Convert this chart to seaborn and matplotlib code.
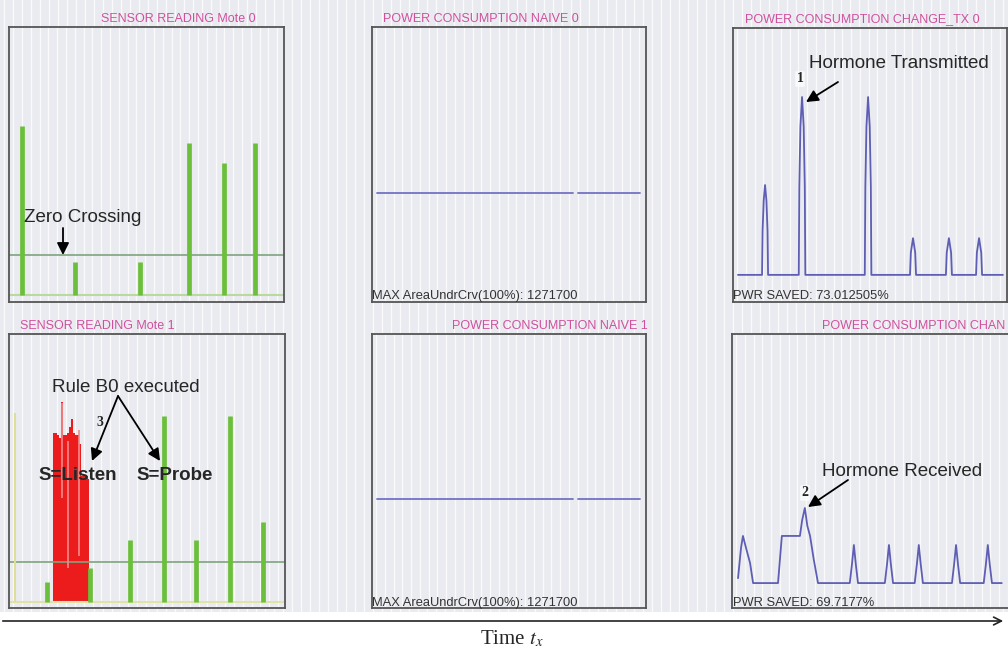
import numpy as np
import matplotlib
matplotlib.use("Agg")
import matplotlib.pyplot as plt
import seaborn as sns

# ==========================
# DATA (time in % of window, value in % of panel height)
# ==========================

# sensor reading, mote 0
mote0_t = [4.7, 24.0, 47.6, 65.5, 78.0, 89.5]
mote0_val = [64, 14.5, 14.5, 58, 50.5, 58]
mote0_base = 2.5
mote0_thresh = 17.0

# sensor reading, mote 1
mote1_t = [13.8, 29.3, 43.8, 56.2, 67.8, 80.0, 92.0]
mote1_val = [9.5, 14.6, 24.8, 70, 24.8, 70, 31.4]
mote1_base = 2.2
mote1_thresh = 16.8
mote1_edge_t = [2.2]
mote1_edge_val = [71]

# red burst (S=Listen) in mote 1
burst_t = [15.9, 17.0, 17.8, 18.5, 19.2, 19.9, 20.7, 21.4, 22.1, 22.8,
           23.6, 24.3, 25.0, 25.7, 26.4, 27.2, 27.9, 28.6, 29.0]
burst_val = [64, 64, 63, 62, 75, 63, 63, 64, 66, 69,
             64, 63, 63, 60, 48, 48, 48, 48, 47]
streak_t = [19.2, 21.4, 25.4]
streak_lo = [40, 14.6, 19]
streak_hi = [75, 61, 65]

# naive power consumption (same for both motes)
naive_t = [1.8, 73.4, 75.2, 97.8]
naive_p = [39.6, 39.6, 39.6, 39.6]

# power consumption with change, mote 0 (TX)
tx0_t = [1.8, 10.6, 10.8, 11.2, 11.7, 12.2, 12.6, 12.8,
         24.0, 24.2, 24.6, 25.2, 25.8, 26.2, 26.4,
         48.1, 48.3, 48.7, 49.3, 49.9, 50.3, 50.5,
         64.6, 64.9, 65.7, 66.5, 66.8,
         77.7, 78.0, 78.8, 79.6, 79.9,
         88.7, 89.0, 89.8, 90.6, 90.9, 98.5]
tx0_p = [9.9, 9.9, 26, 37, 42.7, 37, 26, 9.9,
         9.9, 42, 64, 74.8, 64, 42, 9.9,
         9.9, 42, 64, 74.8, 64, 42, 9.9,
         9.9, 18, 23.3, 18, 9.9,
         9.9, 18, 23.3, 18, 9.9,
         9.9, 18, 23.3, 18, 9.9, 9.9]

# power consumption with change, mote 1 (RX)
rx1_t = [2.2, 3.3, 4.0, 5.1, 6.6, 7.7,
         16.8, 18.2, 24.8, 25.6, 26.6, 27.5, 28.5, 29.8, 31.4,
         43.0, 43.8, 44.5, 45.2, 46.0,
         55.8, 56.6, 57.3, 58.0, 58.8,
         66.7, 67.5, 68.2, 68.9, 69.7,
         80.3, 81.1, 81.8, 82.5, 83.3,
         91.9, 92.7, 93.4, 94.1, 94.9,
         98.5]
rx1_p = [10.9, 22, 26.3, 22, 16.4, 9.1,
         9.1, 26.3, 26.3, 32, 36.5, 30, 26.3, 18, 9.1,
         9.1, 16, 23, 16, 9.1,
         9.1, 16, 23, 16, 9.1,
         9.1, 16, 23, 16, 9.1,
         9.1, 16, 23, 16, 9.1,
         9.1, 16, 23, 16, 9.1,
         9.1]

titles = ["SENSOR READING Mote 0", "POWER CONSUMPTION NAIVE 0",
          "POWER CONSUMPTION CHANGE_TX 0", "SENSOR READING Mote 1",
          "POWER CONSUMPTION NAIVE 1", "POWER CONSUMPTION CHAN"]
naive_label = "MAX AreaUndrCrv(100%): 1271700"
saved_labels = ["PWR SAVED: 73.012505%", "PWR SAVED: 69.7177%"]

# ==========================
# STYLE
# ==========================

sns.set_theme(style="darkgrid")
plt.rcParams["font.family"] = ["Liberation Sans", "DejaVu Sans"]
plt.rcParams["mathtext.fontset"] = "stix"

W, H = 1008, 654
BG = "#e9ebf0"
PINK = "#d0509e"
GREEN = "#6cbf3a"
BLUE = "#5e5eb4"


def box(x0, y0, x1, y1):
    return [x0 / W, 1 - y1 / H, (x1 - x0) / W, (y1 - y0) / H]


def fp(x, y):
    return (x, H - y)


fig = plt.figure(figsize=(W / 100, H / 100), dpi=100)
fig.patch.set_facecolor("white")

# striped screenshot background
bg = fig.add_axes(box(0, 0, W, 612))
bg.set_facecolor(BG)
bg.set_xlim(0, W)
bg.set_ylim(0, 1)
bg.set_xticks(np.arange(4, W, 9))
bg.set_yticks([])
bg.grid(axis="x", color="white", lw=0.9, alpha=0.8)
bg.tick_params(labelbottom=False, length=0)
for s in bg.spines.values():
    s.set_visible(False)


def panel(rect, xmax=100):
    ax = fig.add_axes(rect)
    ax.set_facecolor(BG)
    ax.set_xlim(0, xmax)
    ax.set_ylim(0, 100)
    ax.set_xticks(np.arange(1.5, xmax, 3.2))
    ax.set_yticks([])
    ax.grid(axis="x", color="white", lw=0.9, alpha=0.8)
    ax.grid(axis="y", visible=False)
    ax.tick_params(labelbottom=False, labelleft=False, length=0)
    for s in ax.spines.values():
        s.set_visible(True)
        s.set_color("#555555")
        s.set_linewidth(1.3)
    return ax


ax1 = panel(box(9, 27, 284, 302))
ax2 = panel(box(372, 27, 646, 302))
ax3 = panel(box(733, 28, 1007, 302))
ax4 = panel(box(9, 334, 285, 608))
ax5 = panel(box(372, 334, 646, 608))
ax6 = panel(box(732, 334, 1030, 608), xmax=108.8)

# ==========================
# SENSOR READINGS
# ==========================

ax1.axhline(mote0_base, color="#b9d99f", lw=1.5)
ax1.axhline(mote0_thresh, color="#7fa37f", lw=1.2)
ax1.vlines(mote0_t, mote0_base, mote0_val, color=GREEN, lw=3.4)

ax4.axhline(mote1_base, color="#dfe3a8", lw=1.5)
ax4.axhline(mote1_thresh, color="#7fa37f", lw=1.2)
ax4.vlines(mote1_edge_t, mote1_base, mote1_edge_val, color="#dede9a", lw=1.5)
ax4.vlines(mote1_t, mote1_base, mote1_val, color=GREEN, lw=3.4)
ax4.fill_between(burst_t, mote1_base, burst_val, step="mid", color="#ec1c1c", lw=0)
ax4.vlines(streak_t, streak_lo, streak_hi, color="#f08a8a", lw=1.2)

# ==========================
# POWER CONSUMPTION
# ==========================

for ax in (ax2, ax5):
    sns.lineplot(x=naive_t[:2], y=naive_p[:2], ax=ax, color="#7373c4", lw=1.3)
    sns.lineplot(x=naive_t[2:], y=naive_p[2:], ax=ax, color="#7373c4", lw=1.3)

sns.lineplot(x=tx0_t, y=tx0_p, ax=ax3, color=BLUE, lw=1.3, sort=False, estimator=None)
sns.lineplot(x=rx1_t, y=rx1_p, ax=ax6, color=BLUE, lw=1.3, sort=False, estimator=None)

for ax in (ax1, ax2, ax3, ax4, ax5, ax6):
    ax.set_xlabel("")
    ax.set_ylabel("")

# ==========================
# TEXT
# ==========================

tkw = dict(color=PINK, fontsize=9, va="center", xycoords="figure pixels")
ax1.annotate(titles[0], fp(178, 19), ha="center", **tkw)
ax2.annotate(titles[1], fp(383, 19), ha="left", **tkw)
ax3.annotate(titles[2], fp(745, 19), ha="left", **tkw)
ax4.annotate(titles[3], fp(20, 326), ha="left", **tkw)
ax5.annotate(titles[4], fp(648, 326), ha="right", **tkw)
ax6.annotate(titles[5], fp(822, 326), ha="left", annotation_clip=False, **tkw)

bkw = dict(color="#333333", fontsize=9.3, va="center", ha="left", xycoords="figure pixels")
ax2.annotate(naive_label, fp(372, 296), **bkw)
ax5.annotate(naive_label, fp(372, 603), **bkw)
ax3.annotate(saved_labels[0], fp(733, 296), **bkw)
ax6.annotate(saved_labels[1], fp(733, 603), **bkw)

arrow = dict(arrowstyle="-|>", color="black", lw=1.3, mutation_scale=18, shrinkA=0, shrinkB=0)
akw = dict(xycoords="figure pixels", textcoords="figure pixels", fontsize=13.5,
           ha="center", va="center", annotation_clip=False)

ax1.annotate("Zero Crossing", xy=fp(63, 228), xytext=fp(83, 218), **akw)
ax1.annotate("", xy=fp(63, 255), xytext=fp(63, 228), arrowprops=arrow, **akw)

ax3.annotate("Hormone Transmitted", xy=fp(838, 82), xytext=fp(899, 64), **akw)
ax3.annotate("", xy=fp(806, 102), xytext=fp(838, 82), arrowprops=arrow, **akw)

ax6.annotate("Hormone Received", xy=fp(848, 480), xytext=fp(902, 471), **akw)
ax6.annotate("", xy=fp(808, 507), xytext=fp(848, 480), arrowprops=arrow, **akw)

ax4.annotate("Rule B0 executed", xy=fp(118, 396), xytext=fp(126, 388), **akw)
ax4.annotate("", xy=fp(92, 461), xytext=fp(118, 396), arrowprops=arrow, **akw)
ax4.annotate("", xy=fp(160, 461), xytext=fp(118, 396), arrowprops=arrow, **akw)
ax4.annotate("S=Listen", xy=fp(78, 475), fontweight="bold", **akw)
ax4.annotate("S=Probe", xy=fp(175, 475), fontweight="bold", **akw)

nkw = dict(xycoords="figure pixels", fontsize=10, fontweight="bold", ha="center",
           va="center", family=["Liberation Serif", "DejaVu Serif"])
ax3.annotate("1", fp(800, 79), bbox=dict(boxstyle="round,pad=0.1", fc="white", ec="none", alpha=0.7), **nkw)
ax6.annotate("2", fp(805, 493), bbox=dict(boxstyle="round,pad=0.1", fc="white", ec="none", alpha=0.7), **nkw)
ax4.annotate("3", fp(100, 423), **nkw)

# time axis under the panels
fig.add_artist(matplotlib.patches.FancyArrowPatch(
    fp(0, 621), fp(1006, 621), transform=None, arrowstyle="->", color="#222222",
    lw=1.2, mutation_scale=14))
fig.text(512 / W, 1 - 639 / H, "Time $t_x$", ha="center", va="center", fontsize=15,
         family=["Liberation Serif", "DejaVu Serif"])

plt.savefig("out.png", dpi=100)
plt.close()
